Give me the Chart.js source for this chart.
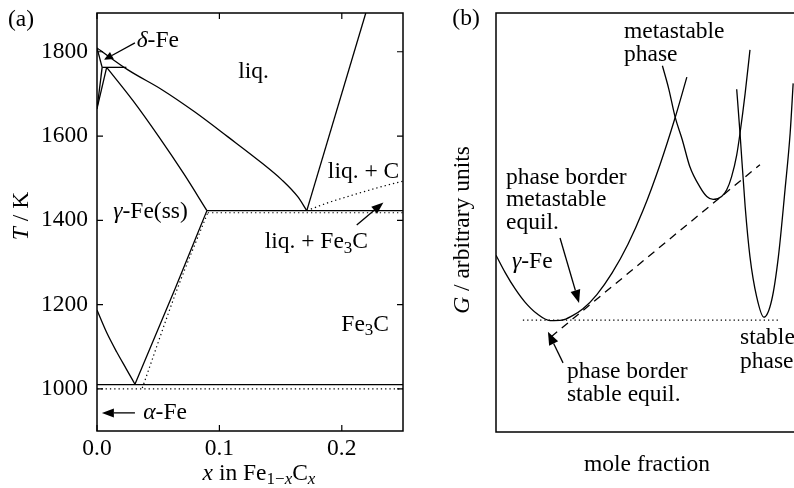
<!DOCTYPE html>
<html>
<head>
<meta charset="utf-8">
<script src="https://cdn.jsdelivr.net/npm/chart.js@4.4.0/dist/chart.umd.min.js"></script>
<style>
  html, body { margin: 0; padding: 0; background: #fff; }
  body { width: 794px; height: 488px; overflow: hidden; position: relative; }
  .panel { position: absolute; top: 0; height: 488px; width: 410px; }
  #panelA { left: 0; }
  #panelB { left: 410px; }
  .warm { position: absolute; left: -2000px; top: 0; font-family: "Liberation Serif"; font-size: 23px; }
</style>
</head>
<body>
<span class="warm">liq. Fe 1800 <i>T x G γ δ α</i> γ δ α</span>
<div class="panel" id="panelA"><canvas id="phase"></canvas></div>
<div class="panel" id="panelB"><canvas id="gibbs"></canvas></div>
<script>
// ---- panel (a): Fe-C phase diagram, x in Fe(1-x)C(x) vs T / K ----
const xTicks = [0, 0.1, 0.2];
const tTicks = [1000, 1200, 1400, 1600, 1800];

// solid (Fe3C system) borders
const liquidus = [[0, 1809], [0.0253, 1757], [0.0531, 1710], [0.080, 1657], [0.107, 1598], [0.1347, 1536], [0.151, 1496], [0.164, 1456], [0.1714, 1423]];
const deltaSolidus = [[0, 1809], [0.0042, 1763]];
const peritectic = [[0.0042, 1763], [0.024, 1763]];
const deltaBorder1 = [[0, 1665], [0.0042, 1763]];
const deltaBorder2 = [[0, 1665], [0.0079, 1763]];
const gammaSolidus = [[0.0079, 1763], [0.0294, 1684], [0.0506, 1598], [0.071, 1510], [0.0898, 1423]];
const eutectic = [[0.0898, 1423], [0.25, 1423]];
const cementiteLiquidus = [[0.1714, 1423], [0.2196, 1892]];
const acmLine = [[0.031, 1011], [0.0637, 1237], [0.0898, 1423]];
const a3Line = [[0, 1187], [0.008, 1133], [0.016, 1088], [0.024, 1047], [0.031, 1011]];
const eutectoid = [[0, 1010], [0.25, 1010]];

// dotted (graphite system) borders
const graphiteLiquidus = [[0.1714, 1423], [0.19, 1443], [0.209, 1460], [0.23, 1478], [0.25, 1493]];
const graphiteEutectic = [[0.0905, 1418], [0.25, 1418]];
const graphiteAcm = [[0.037, 1002], [0.0653, 1235], [0.0905, 1418]];
const graphiteEutectoid = [[0, 1000], [0.25, 1000]];

// ---- panel (b): Gibbs energy vs mole fraction (arbitrary units) ----
const gammaG = [[0, 0.422], [0.030, 0.381], [0.063, 0.342], [0.096, 0.310], [0.136, 0.282], [0.179, 0.266], [0.219, 0.267], [0.252, 0.277], [0.288, 0.294], [0.334, 0.328], [0.384, 0.379], [0.437, 0.448], [0.487, 0.529], [0.543, 0.638], [0.593, 0.750], [0.632, 0.847]];
const metastableG = [[0.551, 0.874], [0.572, 0.819], [0.593, 0.752], [0.617, 0.697], [0.642, 0.633], [0.675, 0.585], [0.698, 0.562], [0.719, 0.555], [0.747, 0.562], [0.764, 0.578], [0.780, 0.609], [0.797, 0.661], [0.808, 0.713], [0.825, 0.808], [0.841, 0.912]];
const stableG = [[0.797, 0.818], [0.808, 0.713], [0.825, 0.538], [0.841, 0.418], [0.863, 0.323], [0.887, 0.274], [0.913, 0.315], [0.935, 0.418], [0.957, 0.578], [0.974, 0.713], [0.984, 0.832]];
const metastableTangent = [[0.182, 0.227], [0.874, 0.638]];
const stableTangent = [[0.089, 0.267], [0.940, 0.267]];

const SERIF = '"Liberation Serif", serif';
const FS = 23.5;

// annotations (text parts: '' normal, 'i' italic, 's' subscript, 'si' italic subscript)
const labelsA = [
  { parts: [['δ', 'i'], ['-Fe', '']], x: 0.0324, y: 1825 },
  { parts: [['liq.', '']], x: 0.1153, y: 1753 },
  { parts: [['γ', 'i'], ['-Fe(ss)', '']], x: 0.0133, y: 1421 },
  { parts: [['liq. + C', '']], x: 0.1886, y: 1516 },
  { parts: [['liq. + Fe', ''], ['3', 's'], ['C', '']], x: 0.137, y: 1348 },
  { parts: [['Fe', ''], ['3', 's'], ['C', '']], x: 0.1996, y: 1152 },
  { parts: [['α', 'i'], ['-Fe', '']], x: 0.0378, y: 942 }
];
const arrowsA = [
  { from: [0.031, 1821], to: [0.0057, 1781], len: 9, hw: 4 },
  { from: [0.2122, 1389], to: [0.234, 1442], len: 12, hw: 4.5 },
  { from: [0.031, 943], to: [0.004, 943], len: 12, hw: 4.5 }
];
const labelsB = [
  { parts: [['metastable', '']], x: 0.424, y: 0.955 },
  { parts: [['phase', '']], x: 0.424, y: 0.900 },
  { parts: [['phase border', '']], x: 0.033, y: 0.606 },
  { parts: [['metastable', '']], x: 0.033, y: 0.554 },
  { parts: [['equil.', '']], x: 0.033, y: 0.499 },
  { parts: [['γ', 'i'], ['-Fe', '']], x: 0.053, y: 0.406 },
  { parts: [['phase border', '']], x: 0.235, y: 0.143 },
  { parts: [['stable equil.', '']], x: 0.235, y: 0.088 },
  { parts: [['stable', '']], x: 0.808, y: 0.224 },
  { parts: [['phase', '']], x: 0.808, y: 0.168 }
];
const arrowsB = [
  { from: [0.212, 0.463], to: [0.275, 0.308], len: 13, hw: 5 },
  { from: [0.222, 0.165], to: [0.172, 0.239], len: 13, hw: 5 }
];

const pts = arr => arr.map(([x, y]) => ({ x, y }));
function line(data, extra) {
  return Object.assign({
    data: pts(data), showLine: true, pointRadius: 0, borderColor: '#000',
    borderWidth: 1.3, tension: 0, fill: false
  }, extra || {});
}
const solid = d => line(d);
const smooth = d => line(d, { cubicInterpolationMode: 'monotone' });
const dotted = d => line(d, { borderDash: [1.3, 3], borderWidth: 1.2 });
const dottedSmooth = d => line(d, { borderDash: [1.3, 3], borderWidth: 1.2, cubicInterpolationMode: 'monotone' });
const dashed = d => line(d, { borderDash: [8, 6] });

function fontFor(style) {
  const sub = style.indexOf('s') >= 0;
  const it = style.indexOf('i') >= 0;
  return (it ? 'italic ' : '') + (sub ? 17 : FS) + 'px ' + SERIF;
}

function drawRich(ctx, parts, x, y, align) {
  ctx.textBaseline = 'middle';
  ctx.textAlign = 'left';
  let w = 0;
  parts.forEach(([t, s]) => { ctx.font = fontFor(s); w += ctx.measureText(t).width; });
  let cx = align === 'center' ? x - w / 2 : x;
  parts.forEach(([t, s]) => {
    ctx.font = fontFor(s);
    ctx.fillText(t, cx, s.indexOf('s') >= 0 ? y + 6 : y);
    cx += ctx.measureText(t).width;
  });
}

function drawArrow(ctx, x0, y0, x1, y1, len, hw) {
  const ang = Math.atan2(y1 - y0, x1 - x0);
  const bx = x1 - len * Math.cos(ang), by = y1 - len * Math.sin(ang);
  ctx.beginPath(); ctx.moveTo(x0, y0); ctx.lineTo(bx, by); ctx.stroke();
  ctx.beginPath(); ctx.moveTo(x1, y1);
  ctx.lineTo(bx + hw * Math.sin(ang), by - hw * Math.cos(ang));
  ctx.lineTo(bx - hw * Math.sin(ang), by + hw * Math.cos(ang));
  ctx.closePath(); ctx.fill();
}

// frame, inward ticks, annotations and arrows drawn through the chart scales
function decorPlugin(cfg) {
  return {
    id: 'decor',
    afterDraw(chart) {
      const { ctx, chartArea: a, scales: { x, y } } = chart;
      ctx.save();
      ctx.strokeStyle = '#000';
      ctx.fillStyle = '#000';
      ctx.lineWidth = 1.5;
      ctx.strokeRect(a.left, a.top, a.right - a.left, a.bottom - a.top);
      if (cfg.ticks) {
        ctx.lineWidth = 1.2;
        ctx.beginPath();
        x.ticks.forEach(t => {
          const px = x.getPixelForValue(t.value);
          ctx.moveTo(px, a.bottom); ctx.lineTo(px, a.bottom - 6);
          ctx.moveTo(px, a.top); ctx.lineTo(px, a.top + 6);
        });
        y.ticks.forEach(t => {
          const py = y.getPixelForValue(t.value);
          ctx.moveTo(a.left, py); ctx.lineTo(a.left + 6, py);
          ctx.moveTo(a.right, py); ctx.lineTo(a.right - 6, py);
        });
        ctx.stroke();
      }
      ctx.lineWidth = 1.3;
      cfg.arrows.forEach(ar => {
        drawArrow(ctx,
          x.getPixelForValue(ar.from[0]), y.getPixelForValue(ar.from[1]),
          x.getPixelForValue(ar.to[0]), y.getPixelForValue(ar.to[1]), ar.len, ar.hw);
      });
      cfg.labels.forEach(l => {
        drawRich(ctx, l.parts, x.getPixelForValue(l.x), y.getPixelForValue(l.y), 'left');
      });
      cfg.outside(ctx, a);
      ctx.restore();
    }
  };
}

function build() {
  Chart.defaults.font.family = SERIF;
  Chart.defaults.color = '#000';

  new Chart(document.getElementById('phase'), {
    type: 'scatter',
    data: {
      datasets: [
        smooth(liquidus), solid(deltaSolidus), solid(peritectic), solid(deltaBorder1),
        solid(deltaBorder2), smooth(gammaSolidus), solid(eutectic), solid(cementiteLiquidus),
        smooth(acmLine), smooth(a3Line), solid(eutectoid),
        dottedSmooth(graphiteLiquidus), dotted(graphiteEutectic), dottedSmooth(graphiteAcm), dotted(graphiteEutectoid)
      ]
    },
    options: {
      responsive: true,
      maintainAspectRatio: false,
      animation: false,
      layout: { padding: { left: 0, top: 13, right: 7, bottom: 0 } },
      plugins: { legend: { display: false }, tooltip: { enabled: false } },
      scales: {
        x: {
          type: 'linear', min: 0, max: 0.25,
          afterBuildTicks: s => { s.ticks = xTicks.map(v => ({ value: v })); },
          afterFit: s => { s.height = 57; s.paddingLeft = 0; s.paddingRight = 0; },
          ticks: { font: { size: FS, family: SERIF }, color: '#000', padding: 4, maxRotation: 0,
                   callback: v => v.toFixed(1) },
          grid: { display: false, drawTicks: false },
          border: { display: false }
        },
        y: {
          type: 'linear', min: 900, max: 1892,
          afterBuildTicks: s => { s.ticks = tTicks.map(v => ({ value: v })); },
          afterFit: s => { s.width = 97; s.paddingTop = 0; s.paddingBottom = 0; },
          ticks: { font: { size: FS, family: SERIF }, color: '#000', padding: 9,
                   callback: v => String(v) },
          grid: { display: false, drawTicks: false },
          border: { display: false }
        }
      }
    },
    plugins: [decorPlugin({
      ticks: true, labels: labelsA, arrows: arrowsA,
      outside(ctx, a) {
        drawRich(ctx, [['(a)', '']], 21, 20, 'center');
        drawRich(ctx, [['x', 'i'], [' in Fe', ''], ['1−', 's'], ['x', 'si'], ['C', ''], ['x', 'si']],
          259, 474, 'center');
        ctx.save();
        ctx.translate(22, 216);
        ctx.rotate(-Math.PI / 2);
        drawRich(ctx, [['T', 'i'], [' / K', '']], 0, 0, 'center');
        ctx.restore();
      }
    })]
  });

  new Chart(document.getElementById('gibbs'), {
    type: 'scatter',
    data: {
      datasets: [
        smooth(gammaG), smooth(metastableG), smooth(stableG),
        dashed(metastableTangent), dotted(stableTangent)
      ]
    },
    options: {
      responsive: true,
      maintainAspectRatio: false,
      animation: false,
      layout: { padding: { left: 86, top: 13, right: 22, bottom: 56 } },
      plugins: { legend: { display: false }, tooltip: { enabled: false } },
      scales: {
        x: { type: 'linear', min: 0, max: 1, display: false },
        y: { type: 'linear', min: 0, max: 1, display: false }
      }
    },
    plugins: [decorPlugin({
      ticks: false, labels: labelsB, arrows: arrowsB,
      outside(ctx, a) {
        drawRich(ctx, [['(b)', '']], 56, 19, 'center');
        drawRich(ctx, [['mole fraction', '']], (a.left + a.right) / 2, 465, 'center');
        ctx.save();
        ctx.translate(53, 230);
        ctx.rotate(-Math.PI / 2);
        drawRich(ctx, [['G', 'i'], [' / arbitrary units', '']], 0, 0, 'center');
        ctx.restore();
      }
    })]
  });
}

Promise.all([
  document.fonts.load('23.5px "Liberation Serif"'),
  document.fonts.load('italic 23.5px "Liberation Serif"')
]).then(build, build);
</script>
</body>
</html>
